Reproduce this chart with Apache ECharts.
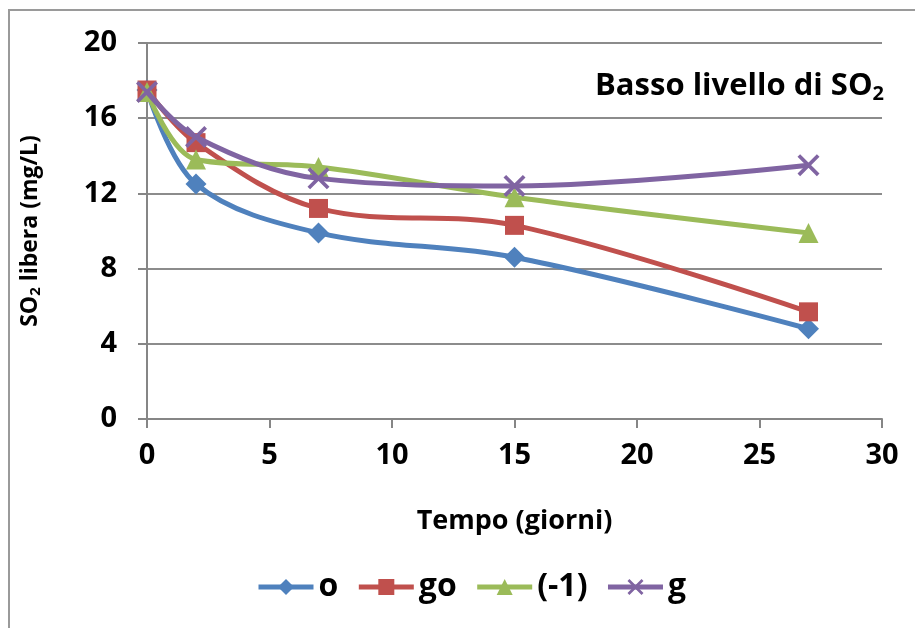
<!DOCTYPE html>
<html><head><meta charset="utf-8">
<script src="https://cdn.jsdelivr.net/npm/echarts@6/dist/echarts.min.js"></script>
<style>html,body{margin:0;padding:0;background:#fff}#c{width:915px;height:628px}</style>
</head><body><div id="c"></div>
<script>
var days = [0, 2, 7, 15, 27];
var seriesNames = ['o', 'go', '(-1)', 'g'];
var valO   = [17.5, 12.5, 9.9, 8.6, 4.8];
var valGo  = [17.5, 14.7, 11.2, 10.3, 5.7];
var valM1  = [17.4, 13.8, 13.4, 11.8, 9.9];
var valG   = [17.4, 15.0, 12.8, 12.4, 13.5];
var xTicks = [0, 5, 10, 15, 20, 25, 30];
var yTicks = [0, 4, 8, 12, 16, 20];

var colors = ['#4F81BD', '#C0504D', '#9BBB59', '#8064A2'];
var symbols = ['diamond', 'rect', 'triangle',
  'path://M0,1.2L1.2,0L10,8.8L8.8,10Z M8.8,0L10,1.2L1.2,10L0,8.8Z'];
var sizes = [21, 19, 20, 22];
var allVals = [valO, valGo, valM1, valG];
var FONT = 'Open Sans';

function pairs(v) { return days.map(function (d, i) { return [d, v[i]]; }); }

var series = allVals.map(function (v, i) {
  return {
    name: seriesNames[i], type: 'line', data: pairs(v), smooth: 0.35,
    symbol: symbols[i], symbolSize: sizes[i],
    lineStyle: { width: 5, color: colors[i] },
    itemStyle: { color: colors[i] },
    z: 2 + i
  };
});

var chart = echarts.init(document.getElementById('c'), null, { renderer: 'canvas' });
chart.setOption({
  animation: false,
  color: colors,
  grid: { left: 147, right: 33, top: 43, bottom: 209, containLabel: false },
  title: {
    text: '{a|Basso livello di SO}{s|2}',
    right: 26, top: 64,
    textStyle: {
      rich: {
        a: { fontFamily: FONT, fontWeight: 'bold', fontSize: 31, color: '#000' },
        s: { fontFamily: FONT, fontWeight: 'bold', fontSize: 20, color: '#000', padding: [15, 0, 0, 0] }
      }
    }
  },
  legend: {
    data: seriesNames, top: 566, left: 251, itemWidth: 55, itemHeight: 20, itemGap: 18,
    lineStyle: { width: 5 },
    textStyle: { fontFamily: FONT, fontWeight: 'bold', fontSize: 32, color: '#000' }
  },
  xAxis: {
    type: 'value', min: 0, max: 30, interval: 5,
    name: 'Tempo (giorni)', nameLocation: 'middle', nameGap: 89,
    nameTextStyle: { fontFamily: FONT, fontWeight: 'bold', fontSize: 27, color: '#000' },
    axisLine: { show: true, onZero: false, lineStyle: { color: '#868686', width: 2 } },
    axisTick: { show: true, inside: false, length: 9, lineStyle: { color: '#868686', width: 2 } },
    splitLine: { show: false },
    axisLabel: { margin: 22, fontFamily: FONT, fontWeight: 'bold', fontSize: 29, color: '#000',
      formatter: function (v) { return xTicks.indexOf(v) >= 0 ? String(v) : ''; } }
  },
  yAxis: {
    type: 'value', min: 0, max: 20, interval: 4,
    name: '{a|SO}{s|2}{a| libera (mg/L)}', nameLocation: 'middle', nameGap: 104,
    nameTextStyle: {
      rich: {
        a: { fontFamily: FONT, fontWeight: 'bold', fontSize: 23, color: '#000' },
        s: { fontFamily: FONT, fontWeight: 'bold', fontSize: 15, color: '#000', padding: [10, 0, 0, 0] }
      }
    },
    axisLine: { show: true, lineStyle: { color: '#868686', width: 2 } },
    axisTick: { show: true, inside: false, length: 9, lineStyle: { color: '#868686', width: 2 } },
    splitLine: { show: true, lineStyle: { color: '#8c8c8c', width: 2 } },
    axisLabel: { margin: 30, fontFamily: FONT, fontWeight: 'bold', fontSize: 29, color: '#000',
      formatter: function (v) { return yTicks.indexOf(v) >= 0 ? String(v) : ''; } }
  },
  graphic: [{
    type: 'rect', shape: { x: 9, y: 10, width: 1000, height: 700 },
    style: { fill: 'none', stroke: '#9a9a9a', lineWidth: 2 }, silent: true, z: -10
  }],
  series: series
});
</script></body></html>
